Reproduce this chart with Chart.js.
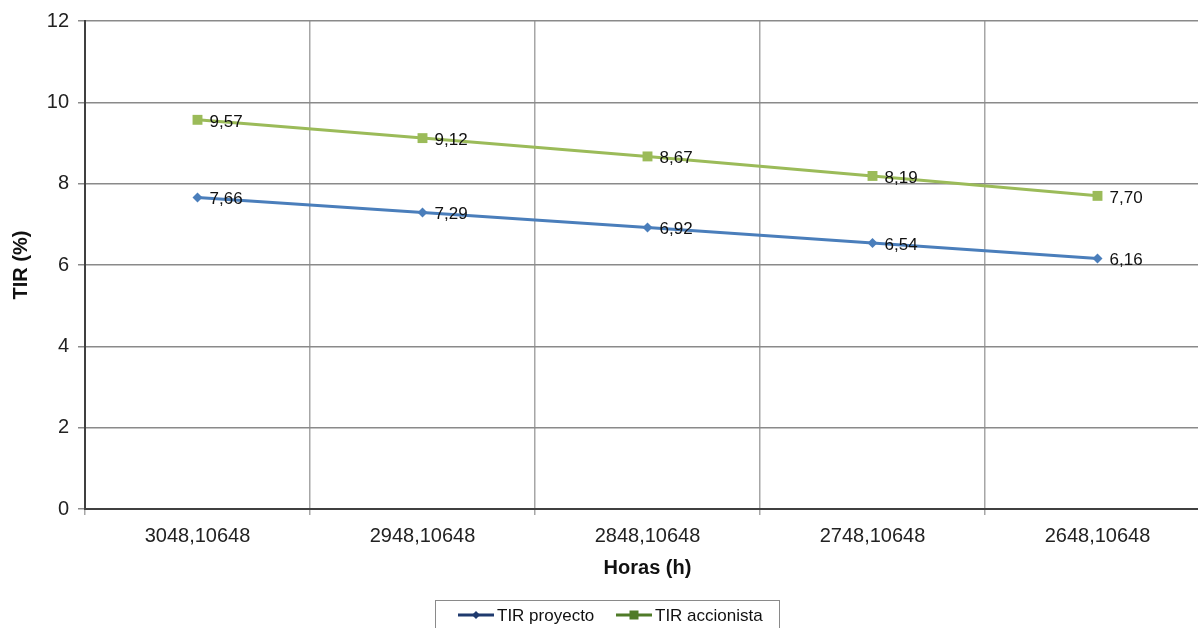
<!DOCTYPE html>
<html>
<head>
<meta charset="utf-8">
<script src="https://cdn.jsdelivr.net/npm/chart.js@4"></script>
<style>
  html, body { margin: 0; padding: 0; background: #fff; overflow: hidden; }
  #wrap { width: 1198px; height: 628px; overflow: hidden; position: relative; }
  canvas { display: block; }
</style>
</head>
<body>
<div id="wrap"><canvas id="tirChart" width="1217" height="628"></canvas></div>
<script>
// Data
const horas = ['3048,10648', '2948,10648', '2848,10648', '2748,10648', '2648,10648'];
const tirProyecto = [7.66, 7.29, 6.92, 6.54, 6.16];
const tirAccionista = [9.57, 9.12, 8.67, 8.19, 7.70];
const yTicks = [0, 2, 4, 6, 8, 10, 12];

const FONT = 'Arial, "Liberation Sans", sans-serif';

// Format numbers with a decimal comma, like the source
function fmt(v) {
    return v.toFixed(2).replace('.', ',');
}

// Value labels to the right of every point
const pointLabels = {
    id: 'pointLabels',
    afterDatasetsDraw(chart) {
        const ctx = chart.ctx;
        ctx.save();
        ctx.font = '17px ' + FONT;
        ctx.fillStyle = '#111';
        ctx.textAlign = 'left';
        ctx.textBaseline = 'middle';
        chart.data.datasets.forEach((ds, i) => {
            const meta = chart.getDatasetMeta(i);
            meta.data.forEach((pt, j) => {
                ctx.fillText(fmt(ds.data[j]), pt.x + 12, pt.y + 2);
            });
        });
        ctx.restore();
    }
};

// Boxed legend at the bottom: line sample with marker, then the name
const boxLegend = {
    id: 'boxLegend',
    afterDraw(chart) {
        const ctx = chart.ctx;
        const items = [
            { x: 458, color: '#1F3A6E', style: 'diamond' },
            { x: 616, color: '#4F7B28', style: 'square' }
        ];
        const y = 615;
        ctx.save();
        ctx.strokeStyle = '#8a8a8a';
        ctx.lineWidth = 1;
        ctx.strokeRect(435.5, 600.5, 344, 50);
        ctx.font = '17px ' + FONT;
        ctx.textBaseline = 'middle';
        ctx.fillStyle = '#111';
        chart.data.datasets.forEach((ds, i) => {
            const it = items[i];
            ctx.strokeStyle = it.color;
            ctx.fillStyle = it.color;
            ctx.lineWidth = 3;
            ctx.beginPath();
            ctx.moveTo(it.x, y);
            ctx.lineTo(it.x + 36, y);
            ctx.stroke();
            const mx = it.x + 18;
            ctx.beginPath();
            if (it.style === 'diamond') {
                ctx.moveTo(mx, y - 4); ctx.lineTo(mx + 4, y); ctx.lineTo(mx, y + 4); ctx.lineTo(mx - 4, y);
            } else {
                ctx.rect(mx - 4.5, y - 4.5, 9, 9);
            }
            ctx.closePath();
            ctx.fill();
            ctx.fillStyle = '#111';
            ctx.fillText(ds.label, it.x + 39, y + 1);
        });
        ctx.restore();
    }
};

const ctx = document.getElementById('tirChart').getContext('2d');

new Chart(ctx, {
    type: 'line',
    data: {
        labels: horas,
        datasets: [
            {
                label: 'TIR proyecto',
                data: tirProyecto,
                borderColor: '#4A7EBB',
                backgroundColor: '#4A7EBB',
                borderWidth: 3,
                pointStyle: 'rectRot',
                pointRadius: 5,
                pointBorderWidth: 0,
                tension: 0
            },
            {
                label: 'TIR accionista',
                data: tirAccionista,
                borderColor: '#9BBB59',
                backgroundColor: '#9BBB59',
                borderWidth: 3,
                pointStyle: 'rect',
                pointRadius: 7,
                pointBorderWidth: 0,
                tension: 0
            }
        ]
    },
    options: {
        responsive: false,
        animation: false,
        layout: {
            padding: { top: 20, right: 2, bottom: 44, left: 0 }
        },
        plugins: {
            legend: { display: false },
            tooltip: { enabled: false }
        },
        scales: {
            x: {
                offset: true,
                grid: {
                    offset: true,
                    color: '#a6a6a6',
                    lineWidth: 1.5,
                    tickLength: 6
                },
                border: { color: '#404040', width: 2 },
                ticks: {
                    padding: 9,
                    color: '#222',
                    font: { family: FONT, size: 20 },
                    maxRotation: 0
                },
                title: {
                    display: true,
                    text: 'Horas (h)',
                    color: '#111',
                    font: { family: FONT, size: 20, weight: 'bold' },
                    padding: { top: 4, bottom: 4 }
                },
                afterFit(scale) { scale.height = 75; }
            },
            y: {
                min: 0,
                max: 12,
                afterBuildTicks(scale) {
                    scale.ticks = yTicks.map(v => ({ value: v }));
                },
                grid: {
                    color: '#8a8a8a',
                    lineWidth: 1.5,
                    tickLength: 7
                },
                border: { color: '#404040', width: 2 },
                ticks: {
                    padding: 9,
                    color: '#222',
                    font: { family: FONT, size: 20 }
                },
                title: {
                    display: true,
                    text: 'TIR (%)',
                    color: '#111',
                    font: { family: FONT, size: 20, weight: 'bold' },
                    padding: { top: 9, bottom: 4 }
                },
                afterFit(scale) { scale.width = 85; }
            }
        }
    },
    plugins: [pointLabels, boxLegend]
});
</script>
</body>
</html>
